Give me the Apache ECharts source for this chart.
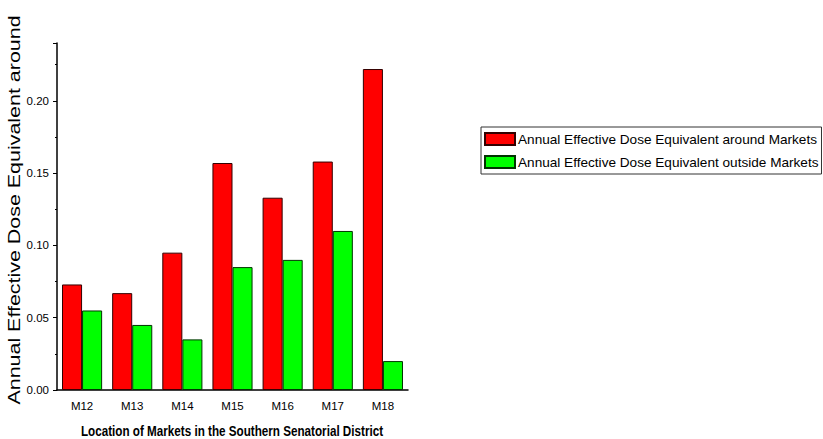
<!DOCTYPE html>
<html><head><meta charset="utf-8">
<script src="https://cdn.jsdelivr.net/npm/echarts@6/dist/echarts.min.js"></script>
<style>html,body{margin:0;padding:0;background:#fff}#c{width:823px;height:439px}</style>
</head><body><div id="c"></div>
<script>
const categories = ['M12','M13','M14','M15','M16','M17','M18'];
const aroundMarkets = [0.073, 0.067, 0.095, 0.157, 0.133, 0.158, 0.222];
const outsideMarkets = [0.055, 0.045, 0.035, 0.085, 0.090, 0.110, 0.020];
const seriesNames = ['Annual Effective Dose Equivalent around Markets','Annual Effective Dose Equivalent outside Markets'];
const yTitle = 'Annual Effective Dose Equivalent around';
const xTitle = 'Location of Markets in the Southern Senatorial District';
const sans = "'Liberation Sans',Arial,sans-serif";

const chart = echarts.init(document.getElementById('c'), null, {renderer:'svg'});
chart.setOption({
  animation:false,
  backgroundColor:'#fff',
  grid:{left:57, right:415, top:43, bottom:49, containLabel:false},
  legend:{
    orient:'vertical', left:481, top:127,
    data:seriesNames,
    itemWidth:30, itemHeight:12, itemGap:9,
    padding:[5,3,5,3],
    borderColor:'#333', borderWidth:1,
    icon:'rect',
    textStyle:{fontFamily:sans, fontSize:13.6, color:'#000', padding:[0,0,0,-2]}
  },
  xAxis:[{
    type:'category', data:categories,
    axisLine:{lineStyle:{color:'#000', width:1.5}},
    axisTick:{alignWithLabel:true, length:5, lineStyle:{color:'#000'}},
    axisLabel:{fontFamily:sans, fontSize:11.5, color:'#000', margin:10},
    splitLine:{show:false}
  },{
    type:'category', data:categories, position:'bottom',
    axisLine:{show:false},
    axisTick:{length:3, lineStyle:{color:'#000'}},
    axisLabel:{show:false}, splitLine:{show:false}
  }],
  yAxis:{
    type:'value', min:0, max:0.24, interval:0.05,
    axisLine:{show:true, lineStyle:{color:'#000', width:1.5}},
    axisTick:{show:true, inside:false, length:4, lineStyle:{color:'#000'}},
    minorTick:{show:true, splitNumber:2, length:2, lineStyle:{color:'#000'}},
    axisLabel:{fontFamily:sans, fontSize:11.5, color:'#000', margin:8, showMaxLabel:false,
      formatter:v=>v.toFixed(2)},
    splitLine:{show:false}
  },
  graphic:[{
    type:'text', x:15, y:210, rotation:Math.PI/2, scaleX:1.34,
    style:{text:yTitle, font:"16px 'Liberation Sans', Arial, sans-serif", fill:'#000',
      textAlign:'center', textVerticalAlign:'middle'}
  },{
    type:'text', x:232, y:431, scaleX:0.835,
    style:{text:xTitle, font:"bold 14px 'Liberation Sans', Arial, sans-serif", fill:'#000',
      textAlign:'center', textVerticalAlign:'middle'}
  }],
  series:[{
    name:seriesNames[0], type:'bar', data:aroundMarkets, xAxisIndex:0,
    barGap:'0%', barCategoryGap:'20%',
    itemStyle:{color:'#ff0000', borderColor:'#300', borderWidth:1}
  },{
    name:seriesNames[1], type:'bar', data:outsideMarkets, xAxisIndex:0,
    barGap:'0%', barCategoryGap:'20%',
    itemStyle:{color:'#00ff00', borderColor:'#030', borderWidth:1}
  }]
});
</script></body></html>
